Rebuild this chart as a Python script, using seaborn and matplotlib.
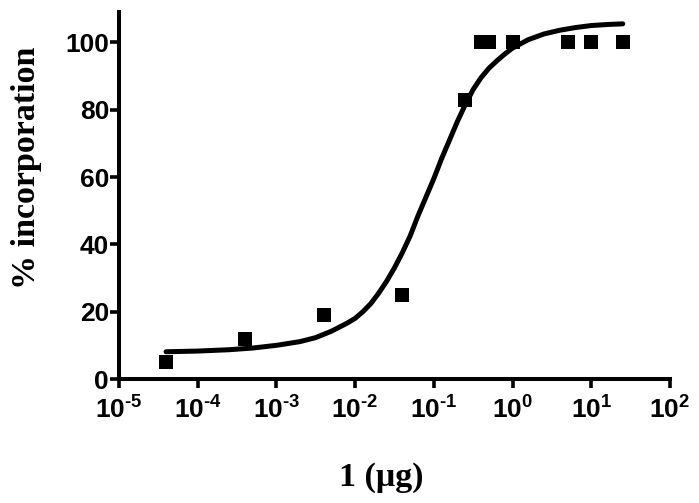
import matplotlib
matplotlib.use("Agg")
import matplotlib.pyplot as plt
import seaborn as sns
import pandas as pd

# Data points
dose = [4e-5, 4e-4, 4e-3, 4e-2, 0.25, 0.4, 0.5, 1.0, 5.0, 10.0, 25.0]
incorporation = [5, 12, 19, 25, 83, 100, 100, 100, 100, 100, 100]

# Fitted curve (log10 of dose, % incorporation)
curve_log_dose = [-4.4, -4.0, -3.6, -3.3, -3.0, -2.7, -2.5, -2.3, -2.1, -2.0,
                  -1.9, -1.8, -1.7, -1.6, -1.5, -1.4, -1.3, -1.2, -1.1, -1.0,
                  -0.9, -0.8, -0.7, -0.6, -0.5, -0.4, -0.3, -0.2, -0.1, 0.0,
                  0.2, 0.4, 0.6, 0.8, 1.0, 1.2, 1.4]
curve_incorp = [8.1, 8.3, 8.7, 9.2, 10.0, 11.1, 12.3, 14.2, 16.6, 18.0,
                20.0, 22.4, 25.5, 29.0, 33.0, 37.5, 42.5, 48.5, 54.0, 59.5,
                65.5, 71.0, 76.5, 81.5, 86.0, 89.5, 92.3, 94.5, 96.5, 98.3,
                100.8, 102.5, 103.6, 104.4, 105.0, 105.3, 105.5]

xticks = [1e-5, 1e-4, 1e-3, 1e-2, 1e-1, 1e0, 1e1, 1e2]
xtick_exps = ["-5", "-4", "-3", "-2", "-1", "0", "1", "2"]
yticks = [0, 20, 40, 60, 80, 100]

sns.set_style("ticks")
plt.rcParams["font.family"] = ["Liberation Sans", "DejaVu Sans"]
plt.rcParams["mathtext.fontset"] = "custom"
plt.rcParams["mathtext.bf"] = "Liberation Sans:bold"
plt.rcParams["mathtext.rm"] = "Liberation Sans:bold"
plt.rcParams["mathtext.default"] = "bf"
for k in ["text.color", "axes.labelcolor", "xtick.color", "ytick.color",
          "axes.edgecolor"]:
    plt.rcParams[k] = "black"

pts = pd.DataFrame({"dose": dose, "inc": incorporation})
crv = pd.DataFrame({"dose": [10 ** v for v in curve_log_dose], "inc": curve_incorp})

fig = plt.figure(figsize=(6.99, 5.03), dpi=100)
ax = fig.add_axes([0.170, 0.2465, 0.7885, 0.7295])

sns.lineplot(data=crv, x="dose", y="inc", ax=ax, color="black", linewidth=3.6,
             sort=False, zorder=2, solid_joinstyle="round", solid_capstyle="round")
sns.scatterplot(data=pts, x="dose", y="inc", ax=ax, marker="s", s=105,
                color="black", edgecolor="black", linewidth=0, zorder=3)

ax.set_xscale("log")
ax.set_xlim(1e-5, 1e2)
ax.set_ylim(0, 109)
ax.set_xticks(xticks)
ax.set_xticklabels([r"$\mathbf{10}^{\text{%s}}$" % e for e in xtick_exps])
ax.minorticks_off()
ax.set_yticks(yticks)
ax.set_yticklabels([str(v) for v in yticks], fontsize=19, fontweight="bold")
for lab in ax.get_xticklabels():
    lab.set_fontsize(19)

sns.despine(ax=ax)
for s in ["left", "bottom"]:
    ax.spines[s].set_linewidth(2.9)
    ax.spines[s].set_color("black")
ax.tick_params(axis="both", length=6.5, width=2.6, color="black")
ax.tick_params(axis="y", pad=0.5)
ax.tick_params(axis="x", pad=6)

ax.set_xlabel("1 (\u03bcg)", fontfamily=["Liberation Serif", "DejaVu Serif"],
              fontsize=24.5, fontweight="bold")
ax.set_ylabel("% incorporation", fontfamily=["Liberation Serif", "DejaVu Serif"],
              fontsize=24.5, fontweight="bold")
ax.xaxis.set_label_coords(0.477, -0.225)
ax.yaxis.set_label_coords(-0.139, 0.575)

fig.savefig("out.png", dpi=100, facecolor="white")
